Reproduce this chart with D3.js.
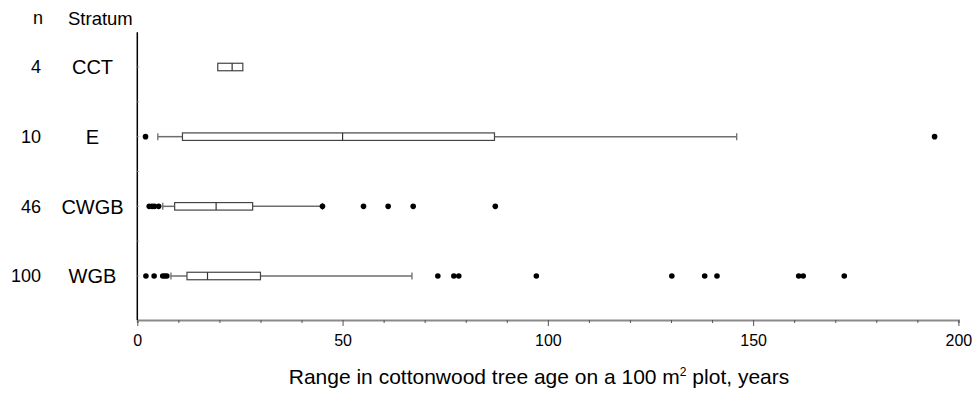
<!DOCTYPE html>
<html>
<head>
<meta charset="utf-8">
<script src="https://cdn.jsdelivr.net/npm/d3@7"></script>
<style>
  body { margin: 0; background: #fff; }
  text { font-family: "Liberation Sans", Arial, sans-serif; fill: #000; }
</style>
</head>
<body>
<svg id="chart" width="974" height="394"></svg>
<script>
// ---------------- data ----------------
var strata      = ["CCT", "E", "CWGB", "WGB"];
var nCounts     = [4, 10, 46, 100];
var whiskerLow  = [19.6, 5.0, 6.2, 8.2];
var q1          = [19.6, 11.0, 9.1, 12.1];
var medians     = [23.1, 50.0, 19.2, 17.1];
var q3          = [25.7, 87.0, 28.1, 30.0];
var whiskerHigh = [25.7, 146.0, 45.1, 66.9];
var outliers = [
  [],
  [2.0, 194.2],
  [2.9, 3.6, 4.2, 5.2, 45.1, 55.1, 61.1, 67.2, 87.2],
  [2.1, 4.1, 6.2, 6.7, 7.2, 73.2, 77.1, 78.3, 97.2, 130.2, 138.2, 141.2, 161.1, 162.2, 172.2]
];
var xTicks = d3.range(0, 201, 10);
var xTitle = "Range in cottonwood tree age on a 100 m";
var xTitleEnd = " plot, years";

// ---------------- layout ----------------
var svg = d3.select("#chart");
var axisY = 320;

var xScale = d3.scaleLinear().domain([0, 200]).range([137.3, 958.4]);
// row index -> vertical position
var yIdx = d3.scaleLinear().domain([0, 3]).range([67, 276]);
var yScale = function(i) { return yIdx(i); };

var boxH = 7.5;
var capH = 7;

// x axis
var xAxis = svg.append("g")
    .attr("transform", "translate(0," + axisY + ")")
    .call(d3.axisBottom(xScale)
      .tickValues(xTicks)
      .tickSize(3)
      .tickPadding(12)
      .tickFormat(function(d) { return d % 50 === 0 ? d : ""; }));
xAxis.select(".domain").attr("stroke", "#8a8a8a").attr("stroke-width", 2);
xAxis.selectAll(".tick line")
    .attr("stroke", "#555")
    .attr("y2", function(d) { return d % 50 === 0 ? 6 : 3; });
xAxis.selectAll(".tick text")
    .style("font-size", "16px")
    .style("font-family", "'Liberation Sans', Arial, sans-serif")
    .attr("fill", "#000");

// y axis line + tiny ticks
svg.append("line")
    .attr("x1", xScale(0)).attr("x2", xScale(0))
    .attr("y1", yIdx(-0.5)).attr("y2", axisY)
    .attr("stroke", "#000").attr("stroke-width", 1.5);
svg.selectAll(".ytick")
    .data(d3.range(-0.5, 3.01, 0.5).slice(1))
  .enter().append("line")
    .attr("class", "ytick")
    .attr("x1", xScale(0)).attr("x2", xScale(0) + 2)
    .attr("y1", function(d) { return yIdx(d); })
    .attr("y2", function(d) { return yIdx(d); })
    .attr("stroke", "#aaa").attr("stroke-width", 1);

// headers
svg.append("text").attr("x", 38).attr("y", 24)
    .attr("text-anchor", "middle").style("font-size", "18px").text("n");
svg.append("text").attr("x", 68).attr("y", 25)
    .style("font-size", "18.5px").text("Stratum");

// row labels
strata.forEach(function(s, i) {
  svg.append("text")
      .attr("x", 41).attr("y", yScale(i)).attr("dy", "0.36em")
      .attr("text-anchor", "end").style("font-size", "18px")
      .text(nCounts[i]);
  svg.append("text")
      .attr("x", 92.5).attr("y", yScale(i)).attr("dy", "0.36em")
      .attr("text-anchor", "middle").style("font-size", "20px")
      .text(s);
});

// boxes
var rows = svg.selectAll(".row")
    .data(strata)
  .enter().append("g")
    .attr("class", "row");

rows.each(function(s, i) {
  var g = d3.select(this);
  var y = yScale(i);

  // whiskers
  [[whiskerLow[i], q1[i]], [q3[i], whiskerHigh[i]]].forEach(function(w) {
    if (w[0] === w[1]) return;
    g.append("line")
        .attr("x1", xScale(w[0])).attr("x2", xScale(w[1]))
        .attr("y1", y).attr("y2", y)
        .attr("stroke", "#6e6e6e").attr("stroke-width", 1.5);
  });
  [whiskerLow[i], whiskerHigh[i]].forEach(function(v, k) {
    if (v === (k === 0 ? q1[i] : q3[i])) return;
    g.append("line")
        .attr("x1", xScale(v)).attr("x2", xScale(v))
        .attr("y1", y - capH / 2).attr("y2", y + capH / 2)
        .attr("stroke", "#6e6e6e").attr("stroke-width", 1.3);
  });

  // box
  g.append("rect")
      .attr("x", xScale(q1[i]))
      .attr("y", y - boxH / 2)
      .attr("width", xScale(q3[i]) - xScale(q1[i]))
      .attr("height", boxH)
      .attr("fill", "#fff")
      .attr("stroke", "#444").attr("stroke-width", 1.2);
  g.append("line")
      .attr("x1", xScale(medians[i])).attr("x2", xScale(medians[i]))
      .attr("y1", y - boxH / 2).attr("y2", y + boxH / 2)
      .attr("stroke", "#333").attr("stroke-width", 1.2);

  // outliers
  g.selectAll("circle")
      .data(outliers[i])
    .enter().append("circle")
      .attr("cx", function(d) { return xScale(d); })
      .attr("cy", y)
      .attr("r", 2.8)
      .attr("fill", "#000");
});

// x title with superscript
var title = svg.append("text")
    .attr("x", 539).attr("y", 384)
    .attr("text-anchor", "middle")
    .style("font-size", "21px");
title.append("tspan").text(xTitle);
title.append("tspan").attr("dy", -8).style("font-size", "12px").text("2");
title.append("tspan").attr("dy", 8).text(xTitleEnd);
</script>
</body>
</html>
